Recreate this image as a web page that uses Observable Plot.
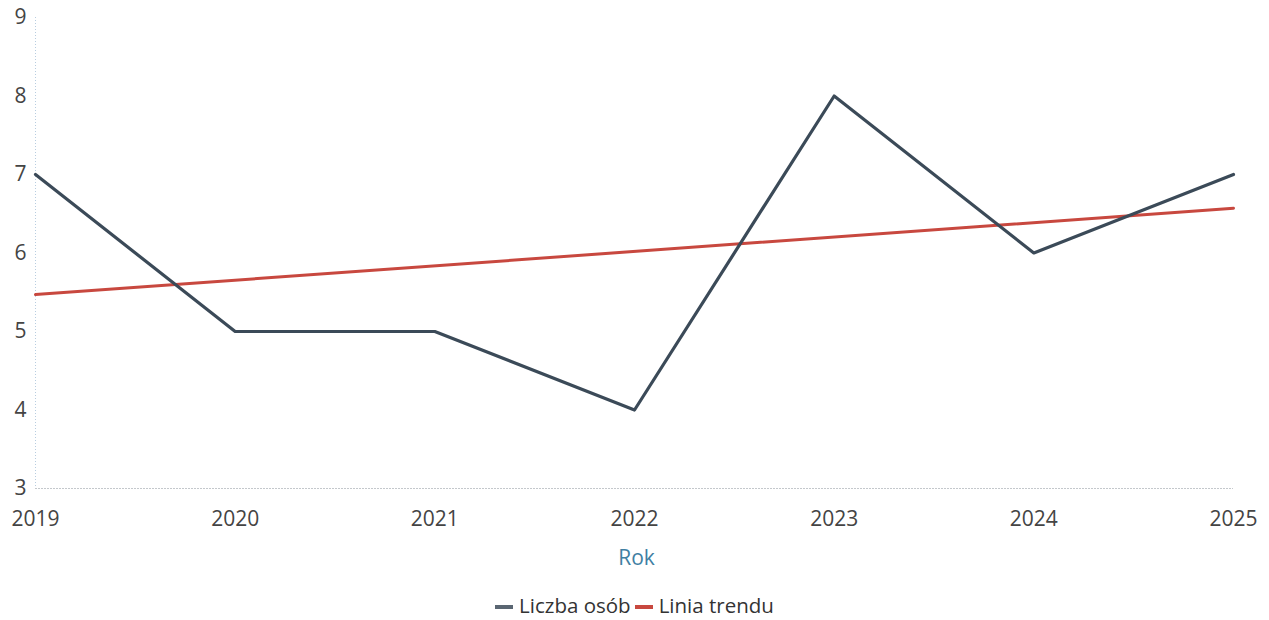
<!DOCTYPE html>
<html>
<head>
<meta charset="utf-8">
<script src="https://cdn.jsdelivr.net/npm/d3@7"></script>
<script src="https://cdn.jsdelivr.net/npm/@observablehq/plot@0.6"></script>
<style>
  body { margin: 0; background: #fff; font-family: "Open Sans", sans-serif; }
  #wrap { width: 1269px; }
  #rok { height: 44px; line-height: 44px; text-align: center; font-size: 21px; color: #3f7fa3; padding-left: 4px; }
  #legend { height: 52px; line-height: 52px; text-align: center; font-size: 20.5px; color: #333; }
  .sw { display: inline-block; width: 18px; height: 4px; vertical-align: middle; margin: 0 6px 0 0; position: relative; top: -1px; }
  .item { margin: 0 2px; }
</style>
</head>
<body>
<div id="wrap">
  <div id="chart"></div>
  <div id="rok">Rok</div>
  <div id="legend"></div>
</div>
<script>
const years = [2019, 2020, 2021, 2022, 2023, 2024, 2025];
const counts = [7, 5, 5, 4, 8, 6, 7];
const trendYears = [2019, 2025];
const trendValues = [5.47, 6.57];
const yTicks = [3, 4, 5, 6, 7, 8, 9];
const seriesNames = ["Liczba osób", "Linia trendu"];
const seriesColors = ["#3b4a58", "#c8483f"];
const legendSwatch = ["#5a6672", "#c8483f"];

const data = years.map((y, i) => ({ year: y, value: counts[i] }));
const trend = trendYears.map((y, i) => ({ year: y, value: trendValues[i] }));

const chart = Plot.plot({
  width: 1269,
  height: 535,
  marginLeft: 35,
  marginRight: 36,
  marginTop: 17,
  marginBottom: 47,
  style: { fontFamily: "Open Sans, sans-serif", color: "#444", background: "#fff" },
  x: { domain: [2019, 2025] },
  y: { domain: [3, 9] },
  marks: [
    Plot.ruleX([2019], { stroke: "#b8cde0", strokeDasharray: "1,2", strokeWidth: 1 }),
    Plot.ruleY([3], { stroke: "#c4c8cc", strokeDasharray: "2,1", strokeWidth: 1 }),
    Plot.axisY({ ticks: yTicks, tickFormat: d3.format("d"), tickSize: 0, tickPadding: 9, fontSize: 21, label: null, fill: "#444" }),
    Plot.axisX({ ticks: years, tickFormat: d3.format("d"), tickSize: 0, tickPadding: 23, fontSize: 21, label: null, fill: "#444" }),
    Plot.line(trend, { x: "year", y: "value", stroke: seriesColors[1], strokeWidth: 3 }),
    Plot.line(data, { x: "year", y: "value", stroke: seriesColors[0], strokeWidth: 3.2 })
  ]
});
document.getElementById("chart").appendChild(chart);

const legend = document.getElementById("legend");
seriesNames.forEach((n, i) => {
  const s = document.createElement("span");
  s.className = "item";
  s.innerHTML = `<span class="sw" style="background:${legendSwatch[i]}"></span>${n}`;
  legend.appendChild(s);
});
</script>
</body>
</html>
